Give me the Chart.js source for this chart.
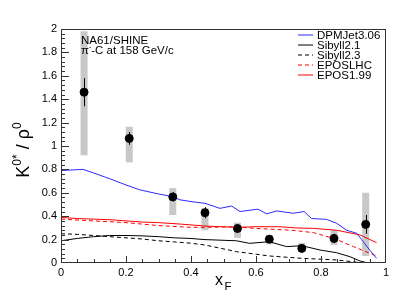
<!DOCTYPE html>
<html>
<head>
<meta charset="utf-8">
<script src="https://cdn.jsdelivr.net/npm/chart.js@4.4.0/dist/chart.umd.min.js"></script>
<style>
  body { margin: 0; background: #fff; }
  canvas { display: block; }
</style>
</head>
<body>
<canvas id="grafico" width="407" height="292"></canvas>
<script>
// NA61/SHINE points
const xF       = [0.071, 0.21, 0.344, 0.443, 0.543, 0.641, 0.741, 0.84, 0.9375];
const ratio    = [1.46, 1.065, 0.565, 0.43, 0.295, 0.203, 0.125, 0.21, 0.33];
const statErr  = [0.12, 0.055, 0.04, 0.047, 0.03, 0.025, 0.02, 0.04, 0.08];
const sysLow   = [0.92, 0.86, 0.41, 0.28, 0.215, 0.16, 0.095, 0.155, 0.06];
const sysHigh  = [1.98, 1.165, 0.64, 0.47, 0.345, 0.24, 0.17, 0.28, 0.60];

// model curves [xF, ratio]
const dpmjet = [[0,0.79],[0.03,0.795],[0.068,0.80],[0.1,0.77],[0.15,0.72],[0.2,0.667],[0.243,0.625],
  [0.3,0.59],[0.344,0.567],[0.366,0.54],[0.4,0.525],[0.443,0.51],[0.489,0.467],[0.525,0.487],[0.551,0.44],
  [0.606,0.46],[0.633,0.42],[0.664,0.445],[0.715,0.425],[0.748,0.44],[0.771,0.38],[0.817,0.373],
  [0.848,0.34],[0.879,0.28],[0.91,0.254],[0.925,0.2],[0.95,0.11],[0.971,0.04]];
const sibyll21 = [[0,0.19],[0.05,0.21],[0.1,0.225],[0.15,0.235],[0.2,0.235],[0.25,0.232],[0.3,0.225],
  [0.35,0.215],[0.397,0.21],[0.443,0.2],[0.54,0.19],[0.58,0.168],[0.641,0.182],[0.694,0.14],[0.741,0.148],
  [0.797,0.111],[0.848,0.088],[0.889,0.054],[0.92,0.017],[0.94,0.003],[0.97,0.0]];
const sibyll23 = [[0,0.25],[0.05,0.245],[0.1,0.235],[0.15,0.225],[0.2,0.215],[0.25,0.205],[0.3,0.19],
  [0.35,0.18],[0.397,0.17],[0.443,0.154],[0.54,0.097],[0.641,0.06],[0.741,0.04],[0.848,0.026],[0.9,0.01],[0.93,0.0]];
const eposlhc  = [[0,0.375],[0.1,0.36],[0.2,0.345],[0.3,0.32],[0.397,0.305],[0.45,0.305],[0.54,0.31],
  [0.6,0.295],[0.71,0.28],[0.776,0.26],[0.84,0.21],[0.9,0.14],[0.971,0.06]];
const epos199  = [[0,0.39],[0.05,0.38],[0.1,0.375],[0.15,0.37],[0.2,0.36],[0.25,0.35],[0.3,0.345],
  [0.366,0.333],[0.443,0.316],[0.54,0.305],[0.6,0.31],[0.674,0.31],[0.72,0.30],[0.776,0.296],
  [0.848,0.28],[0.92,0.24],[0.971,0.174]];

const xTicks = [0, 0.2, 0.4, 0.6, 0.8, 1];
const yTicks = [0, 0.2, 0.4, 0.6, 0.8, 1, 1.2, 1.4, 1.6, 1.8, 2];

const modelos = [
  { label: 'DPMJet3.06', data: dpmjet,   color: '#2a2aff', dash: [] },
  { label: 'Sibyll2.1',  data: sibyll21, color: '#000000', dash: [] },
  { label: 'Sibyll2.3',  data: sibyll23, color: '#000000', dash: [4, 3] },
  { label: 'EPOSLHC',    data: eposlhc,  color: '#ff0000', dash: [4, 3] },
  { label: 'EPOS1.99',   data: epos199,  color: '#ff0000', dash: [] },
];

const FONT = '"Liberation Sans", Arial, sans-serif';

const desenho = {
  id: 'desenho',
  beforeDatasetsDraw(chart) {
    const { ctx, scales: { x, y } } = chart;
    ctx.save();
    ctx.fillStyle = '#c8c8c8';
    xF.forEach((v, i) => {
      const px = x.getPixelForValue(v);
      const top = y.getPixelForValue(sysHigh[i]);
      const bot = y.getPixelForValue(sysLow[i]);
      ctx.fillRect(px - 3.5, top, 7, bot - top);
    });
    ctx.restore();
  },
  afterDatasetsDraw(chart) {
    const { ctx, chartArea: a, scales: { x, y } } = chart;
    ctx.save();
    // barras de erro estatístico
    ctx.fillStyle = '#000';
    xF.forEach((v, i) => {
      const px = Math.round(x.getPixelForValue(v));
      const t = y.getPixelForValue(ratio[i] + statErr[i]);
      const b = y.getPixelForValue(ratio[i] - statErr[i]);
      ctx.fillRect(px, t, 1, b - t);
    });

    // moldura
    const L = Math.round(a.left), R = Math.round(a.right), T = Math.round(a.top), B = Math.round(a.bottom);
    ctx.fillStyle = '#333';
    ctx.fillRect(L, T, R - L, 1);
    ctx.fillRect(L, B - 1, R - L, 1);
    ctx.fillRect(L, T, 1, B - T);
    ctx.fillRect(R - 1, T, 1, B - T);

    // ticks internos
    for (let k = 0; k <= 20; k++) {
      const px = Math.round(x.getPixelForValue(k * 0.05));
      const len = k % 4 === 0 ? 7 : 4;
      ctx.fillRect(Math.min(px, R - 1), B - len, 1, len);
    }
    for (let k = 0; k <= 50; k++) {
      const py = Math.round(y.getPixelForValue(k * 0.04));
      const len = k % 5 === 0 ? 8 : 4;
      ctx.fillRect(L, Math.min(py, B - 1), len, 1);
    }

    // textos
    ctx.fillStyle = '#000';
    ctx.textBaseline = 'alphabetic';
    ctx.textAlign = 'left';
    ctx.font = '11.5px ' + FONT;
    ctx.fillText('NA61/SHINE', 81, 44);
    ctx.fillText('π', 81, 54);
    let w = ctx.measureText('π').width;
    ctx.font = '7px ' + FONT;
    ctx.fillText('-', 81 + w, 49);
    w += ctx.measureText('-').width;
    ctx.font = '11.5px ' + FONT;
    ctx.fillText('-C at 158 GeV/c', 81 + w, 54);

    // legenda
    ctx.font = '11.5px ' + FONT;
    ctx.textBaseline = 'middle';
    ctx.lineWidth = 1;
    modelos.forEach((m, i) => {
      const ly = 35 + i * 10;
      ctx.strokeStyle = m.color;
      ctx.setLineDash(m.dash);
      ctx.beginPath();
      ctx.moveTo(298, ly);
      ctx.lineTo(313, ly);
      ctx.stroke();
      ctx.setLineDash([]);
      ctx.fillText(m.label, 317, ly + 0.5);
    });

    // título do eixo x
    ctx.textBaseline = 'alphabetic';
    ctx.font = '16px ' + FONT;
    ctx.fillText('x', 215, 285);
    ctx.font = '11.5px ' + FONT;
    ctx.fillText('F', 224.5, 290);

    // título do eixo y
    ctx.translate(29, 150);
    ctx.rotate(-Math.PI / 2);
    const partes = [['K', 18, 0], ['0*', 12, -8], [' / ', 18, 0], ['ρ', 18, 0], ['0', 12, -8]];
    let total = 0;
    partes.forEach(p => { ctx.font = p[1] + 'px ' + FONT; total += ctx.measureText(p[0]).width; });
    let cx = -total / 2;
    partes.forEach(p => {
      ctx.font = p[1] + 'px ' + FONT;
      ctx.fillText(p[0], cx, p[2]);
      cx += ctx.measureText(p[0]).width;
    });
    ctx.restore();
  }
};

const fmt = v => String(+Number(v).toFixed(1));

new Chart(document.getElementById('grafico'), {
  type: 'scatter',
  data: {
    datasets: [
      {
        label: 'NA61/SHINE',
        data: xF.map((v, i) => ({ x: v, y: ratio[i] })),
        backgroundColor: '#000',
        borderColor: '#000',
        pointRadius: 4,
        pointHoverRadius: 4,
        order: 0,
      },
      ...modelos.map(m => ({
        label: m.label,
        data: m.data.map(p => ({ x: p[0], y: p[1] })),
        showLine: true,
        borderColor: m.color,
        borderWidth: 1,
        borderDash: m.dash,
        pointRadius: 0,
        tension: 0,
        order: 1,
      })),
    ]
  },
  options: {
    responsive: false,
    animation: false,
    devicePixelRatio: 1,
    layout: { padding: { left: 0, top: 29, right: 21, bottom: 0 } },
    plugins: { legend: { display: false }, tooltip: { enabled: false } },
    scales: {
      x: {
        type: 'linear', min: 0, max: 1,
        afterBuildTicks: s => { s.ticks = xTicks.map(v => ({ value: v })); },
        ticks: { color: '#000', font: { family: FONT, size: 11 }, padding: 3, maxRotation: 0, callback: fmt },
        grid: { display: false, drawTicks: false },
        border: { display: false },
        afterFit: s => { s.height = 29; },
      },
      y: {
        min: 0, max: 2,
        afterBuildTicks: s => { s.ticks = yTicks.map(v => ({ value: v })); },
        ticks: { color: '#000', font: { family: FONT, size: 11 }, padding: 4, callback: fmt },
        grid: { display: false, drawTicks: false },
        border: { display: false },
        afterFit: s => { s.width = 61; },
      }
    }
  },
  plugins: [desenho]
});
</script>
</body>
</html>
